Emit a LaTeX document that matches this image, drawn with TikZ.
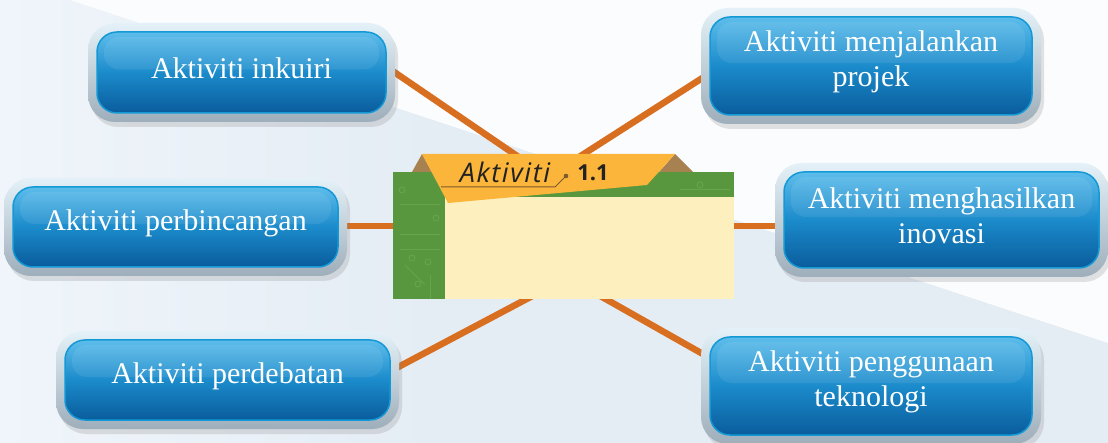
\documentclass[tikz,border=0pt]{standalone}
\usepackage{fontspec}
\setmainfont{Liberation Serif}
\newfontfamily\tabfont[LetterSpace=6]{Open Sans}
\newfontfamily\tabbold{Open Sans}
\usetikzlibrary{calc,shadows}
\pgfdeclarelayer{bg}
\pgfdeclarelayer{lines}
\pgfsetlayers{bg,lines,main}
\definecolor{conncol}{HTML}{D86E1F}
\definecolor{bgcol}{HTML}{E4ECF4}
\definecolor{bgtl}{HTML}{EFF5FA}
\definecolor{bgwhite}{HTML}{FAFCFE}
\definecolor{boxtop}{HTML}{5DBDEB}
\definecolor{boxmid}{HTML}{1B8BCB}
\definecolor{boxbot}{HTML}{0A5C9C}
\definecolor{boxedge}{HTML}{1399D6}
\definecolor{ringtop}{HTML}{E4F1F8}
\definecolor{ringbot}{HTML}{9EAEBA}
\definecolor{green1}{HTML}{58973E}
\definecolor{green2}{HTML}{6BAA50}
\definecolor{cream}{HTML}{FEF0BE}
\definecolor{tabcol}{HTML}{FBB53B}
\definecolor{flapcol}{HTML}{A88150}
\definecolor{linecol}{HTML}{7C5A2C}
\definecolor{tabtext}{HTML}{222222}
\tikzset{
  conn/.style={draw=conncol, line width=6.5pt},
  ringbox/.style={rounded corners=27pt, top color=ringtop, bottom color=ringbot,
    drop shadow={opacity=0.22, shadow xshift=3pt, shadow yshift=-5pt}},
  actnode/.style={rectangle, rounded corners=20pt, top color=boxtop, bottom color=boxbot,
    middle color=boxmid, draw=boxedge, line width=1.5pt, inner sep=0pt},
  gloss/.style={fill=white, opacity=0.08, rounded corners=15pt},
  acttext/.style={text=white, font=\fontsize{30}{35}\selectfont, align=center, inner sep=0pt},
}
\newcommand\actbox[6]{%
  \path[ringbox] ({#2-#4/2-9},{#3-#5/2-9}) rectangle ({#2+#4/2+9},{#3+#5/2+9});
  \node[actnode, minimum width=#4, minimum height=#5] (#1) at (#2,#3) {};
  \fill[gloss] ({#2-#4/2+7},{#3-#5/2+5}) rectangle ({#2+#4/2-7},{#3-3});
  \node[acttext] (#1t) at (#2,{#3-4}) {#6};
}
\begin{document}
\begin{tikzpicture}[x=1pt,y=-1pt]
\useasboundingbox (0,0) rectangle (1108,443);
\begin{pgfonlayer}{bg}
  \fill[bgcol] (0,0) rectangle (1108,443);
  \shade[left color=bgtl, right color=bgcol] (0,0) rectangle (450,443);
  \fill[bgwhite] (70,0) -- (1108,0) -- (1108,343) -- cycle;
\end{pgfonlayer}

% boxes
\actbox{b1}{241.5}{72.5}{289}{81}{Aktiviti inkuiri}
\actbox{b2}{871}{66}{322}{98}{Aktiviti menjalankan\\projek}
\actbox{b3}{175.5}{227}{325}{80}{Aktiviti perbincangan}
\actbox{b4}{941.5}{220}{315}{96}{Aktiviti menghasilkan\\inovasi}
\actbox{b5}{227.5}{380}{325}{80}{Aktiviti perdebatan}
\actbox{b6}{871}{386}{322}{98}{Aktiviti penggunaan\\teknologi}

% central panel
\node[rectangle, fill=green1, minimum width=341, minimum height=127, inner sep=0pt]
  (panel) at (563.5,235.5) {};
\begin{scope}[draw=green2, line width=1pt, opacity=0.7]
  \draw (400,205) -- (440,205);
  \draw (400,235) -- (440,235);
  \draw (400,250) -- (440,250);
  \draw (405,265) -- (425,285);
  \draw (430,275) -- (430,299);
  \draw (412,258) circle (3);
  \draw (428,262) circle (3);
  \draw (418,284) circle (3);
  \draw (436,218) circle (3);
  \draw (402,190) circle (3);
  \draw (700,185) circle (3);
  \draw (680,190) -- (730,190);
\end{scope}
\fill[cream] (445,197) rectangle (734,299);
% tab
\fill[flapcol] (422,154) -- (412,172) -- (432,172) -- cycle;
\fill[flapcol] (675,154) -- (693,172) -- (659,172) -- cycle;
\fill[tabcol] (422,154) -- (675,154) -- (647,185) -- (448,203) -- cycle;
\draw[linecol, line width=1pt] (441,187) -- (555,187) -- (566,176);
\fill[linecol] (566,176) circle (2.3);
\node[text=tabtext, font=\tabfont\itshape\fontsize{27}{30}\selectfont, inner sep=0pt]
  (tabA) at (505,172) {Aktiviti};
\node[text=tabtext, font=\tabbold\bfseries\fontsize{22}{26}\selectfont, inner sep=0pt]
  (tabN) at (593,173) {1.1};

% connectors (behind)
\coordinate (c1) at (545,175);
\coordinate (c2) at (565,166);
\coordinate (c3) at (410,226);
\coordinate (c4) at (720,226);
\coordinate (c5) at (555,284);
\coordinate (c6) at (565,276);
\begin{pgfonlayer}{lines}
  \draw[conn] ($(b1.east)+(0,-5.5)$) -- (c1);
  \draw[conn] ($(b2.west)+(0,7.6)$) -- (c2);
  \draw[conn] (c3 -| b3.east) -- (c3);
  \draw[conn] (c4) -- (c4 -| b4.west);
  \draw[conn] ($(b5.east)+(0,-9)$) -- (c5);
  \draw[conn] ($(b6.west)+(0,-28.4)$) -- (c6);
\end{pgfonlayer}
\end{tikzpicture}
\end{document}
